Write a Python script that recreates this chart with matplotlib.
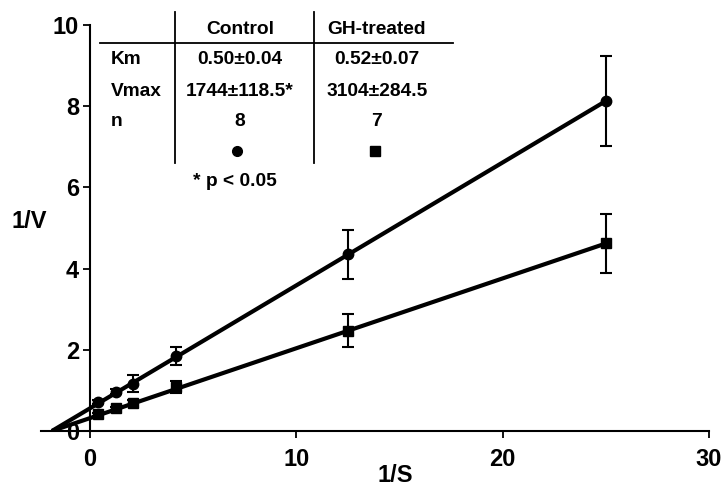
import matplotlib
matplotlib.use("Agg")
import matplotlib.pyplot as plt
from matplotlib.lines import Line2D

plt.rcParams['font.family'] = ['Liberation Sans', 'DejaVu Sans']
plt.rcParams['font.weight'] = 'bold'

# 1/S values (same for both groups)
inv_s = [0.4, 1.25, 2.08, 4.17, 12.5, 25.0]

# control (circles)
ctrl_y = [0.72, 0.97, 1.17, 1.85, 4.35, 8.13]
ctrl_err = [0.05, 0.06, 0.2, 0.22, 0.6, 1.1]

# GH-treated (squares)
gh_y = [0.41, 0.56, 0.70, 1.08, 2.47, 4.62]
gh_err = [0.03, 0.04, 0.06, 0.15, 0.4, 0.72]

# fitted lines, endpoints
fit_x_ctrl = [-1.85, 25.0]
fit_y_ctrl = [0.0, 8.13]
fit_x_gh = [-1.85, 25.0]
fit_y_gh = [0.0, 4.62]

# table text
col_heads = ['Control', 'GH-treated']
row_heads = ['Km', 'Vmax', 'n']
ctrl_col = ['0.50\u00b10.04', '1744\u00b1118.5*', '8']
gh_col = ['0.52\u00b10.07', '3104\u00b1284.5', '7']

fig = plt.figure(figsize=(7.24, 4.92), dpi=100)
ax = fig.add_axes([0.0566, 0.124, 0.9227, 0.825])

ax.plot(fit_x_ctrl, fit_y_ctrl, color='black', lw=3, solid_capstyle='butt')
ax.plot(fit_x_gh, fit_y_gh, color='black', lw=3, solid_capstyle='butt')
ax.errorbar(inv_s, ctrl_y, yerr=ctrl_err, fmt='o', color='black', ms=7.5,
            elinewidth=1.5, capsize=4, capthick=1.5, clip_on=False)
ax.errorbar(inv_s, gh_y, yerr=gh_err, fmt='s', color='black', ms=7,
            elinewidth=1.5, capsize=4, capthick=1.5, clip_on=False)

ax.set_xlim(-2.38, 30)
ax.set_ylim(0, 10)
ax.spines['left'].set_position(('data', 0))
ax.spines['top'].set_visible(False)
ax.spines['right'].set_visible(False)
for s in ['left', 'bottom']:
    ax.spines[s].set_linewidth(1.5)
ax.set_xticks([0, 10, 20, 30])
ax.set_yticks([0, 2, 4, 6, 8, 10])
ax.tick_params(direction='out', length=5, width=1.3, labelsize=17)
ax.tick_params(axis='x', pad=7)
ax.tick_params(axis='y', pad=3)
for lab in ax.get_xticklabels() + ax.get_yticklabels():
    lab.set_fontweight('bold')

# axis labels, placed by pixel
fig.text(29 / 724, 1 - 221 / 492, '1/V', fontsize=17, fontweight='bold',
         ha='center', va='center')
fig.text(395 / 724, 1 - 476 / 492, '1/S', fontsize=17, fontweight='bold',
         ha='center', va='center')

# table in the top-left corner
def px(x, y):
    return x / 724, 1 - y / 492

fig.add_artist(Line2D([px(100, 0)[0], px(453, 0)[0]], [px(0, 43)[1]] * 2,
                      color='black', lw=1.3))
for xv in [175, 314]:
    fig.add_artist(Line2D([px(xv, 0)[0]] * 2, [px(0, 12)[1], px(0, 163)[1]],
                          color='black', lw=1.3))

tfs = 13.8
col_x = [240, 377]
for cx, head in zip(col_x, col_heads):
    fig.text(*px(cx, 30), head, fontsize=tfs, fontweight='bold', ha='center', va='center')
row_y = [60, 91, 122]
for ry, rh, c1, c2 in zip(row_y, row_heads, ctrl_col, gh_col):
    fig.text(*px(111, ry), rh, fontsize=tfs, fontweight='bold', ha='left', va='center')
    fig.text(*px(col_x[0], ry), c1, fontsize=tfs, fontweight='bold', ha='center', va='center')
    fig.text(*px(col_x[1], ry), c2, fontsize=tfs, fontweight='bold', ha='center', va='center')
fig.add_artist(Line2D([px(237, 0)[0]], [px(0, 151)[1]], marker='o', ms=7, color='black'))
fig.add_artist(Line2D([px(375, 0)[0]], [px(0, 151)[1]], marker='s', ms=7, color='black'))
fig.text(*px(235, 182), '* p < 0.05', fontsize=tfs, fontweight='bold', ha='center', va='center')

fig.savefig('out.png', dpi=100)
